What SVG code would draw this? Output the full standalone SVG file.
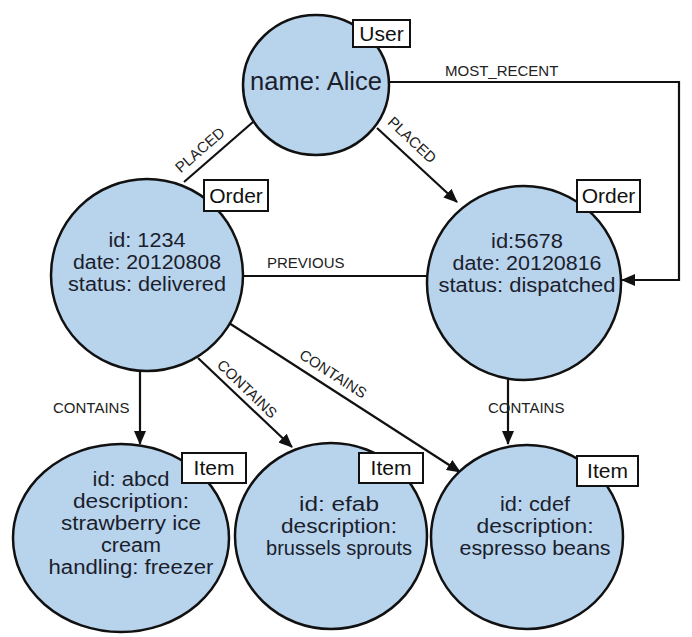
<svg xmlns="http://www.w3.org/2000/svg" width="692" height="637" viewBox="0 0 692 637">
<style>
.node{fill:#b8d3ec;stroke:#111;stroke-width:2.5}
.ntext{font-family:"Liberation Sans",Arial,sans-serif;font-size:19.5px;fill:#1b1e2c;text-anchor:middle}
.box{fill:#fff;stroke:#111;stroke-width:2}
.btext{font-family:"Liberation Sans",Arial,sans-serif;font-size:21px;fill:#111;text-anchor:middle}
.edge{fill:none;stroke:#111;stroke-width:2.2}
.elabel{font-family:"Liberation Sans",Arial,sans-serif;font-size:15px;fill:#222}
.mid{text-anchor:middle}
</style>
<defs>
<marker id="arrow" markerUnits="userSpaceOnUse" markerWidth="14" markerHeight="12" refX="13" refY="6" orient="auto">
<path d="M0,0 L14,6 L0,12 z" fill="#111"/>
</marker>
</defs>
<rect width="692" height="637" fill="#fff"/>
<g id="connectors">
<line class="edge" x1="253" y1="122" x2="184" y2="182"/>
<line class="edge" x1="377" y1="128" x2="457" y2="202" marker-end="url(#arrow)"/>
<polyline class="edge" points="389,82 679,82 679,280 622,280" marker-end="url(#arrow)"/>
<line class="edge" x1="240" y1="276" x2="427" y2="276"/>
<line class="edge" x1="140" y1="372" x2="140" y2="444" marker-end="url(#arrow)"/>
<line class="edge" x1="198" y1="358" x2="292" y2="447" marker-end="url(#arrow)"/>
<line class="edge" x1="229" y1="323" x2="460" y2="472" marker-end="url(#arrow)"/>
<line class="edge" x1="508" y1="374" x2="508" y2="444" marker-end="url(#arrow)"/>
<text class="elabel mid" transform="translate(200,150) rotate(-41)" y="5">PLACED</text>
<text class="elabel mid" transform="translate(412,140) rotate(43)" y="5">PLACED</text>
<text class="elabel" x="445" y="76">MOST_RECENT</text>
<text class="elabel" x="267" y="268">PREVIOUS</text>
<text class="elabel" x="53" y="413">CONTAINS</text>
<text class="elabel mid" transform="translate(247,389) rotate(44)" y="5">CONTAINS</text>
<text class="elabel mid" transform="translate(333,374) rotate(33)" y="5">CONTAINS</text>
<text class="elabel" x="488" y="413">CONTAINS</text>
</g>
<g id="user">
<ellipse class="node" cx="316" cy="85" rx="73" ry="70"/>
<text class="ntext" x="316" y="90" style="font-size:25.5px">name: Alice</text>
<rect class="box" x="353" y="20" width="57" height="27"/>
<text class="btext" x="381.5" y="41">User</text>
</g>
<g id="order1234">
<circle class="node" cx="147" cy="275" r="96"/>
<text class="ntext" x="147" y="247" textLength="77" lengthAdjust="spacingAndGlyphs">id: 1234</text>
<text class="ntext" x="147" y="269" textLength="148" lengthAdjust="spacingAndGlyphs">date: 20120808</text>
<text class="ntext" x="147" y="291" textLength="158" lengthAdjust="spacingAndGlyphs">status: delivered</text>
<rect class="box" x="204" y="180" width="64" height="31"/>
<text class="btext" x="236" y="203">Order</text>
</g>
<g id="order5678">
<circle class="node" cx="524" cy="283" r="97"/>
<text class="ntext" x="527" y="248" textLength="72" lengthAdjust="spacingAndGlyphs">id:5678</text>
<text class="ntext" x="527" y="270" textLength="149" lengthAdjust="spacingAndGlyphs">date: 20120816</text>
<text class="ntext" x="527" y="292" textLength="177" lengthAdjust="spacingAndGlyphs">status: dispatched</text>
<rect class="box" x="577" y="180" width="63" height="32"/>
<text class="btext" x="608.5" y="203">Order</text>
</g>
<g id="itemabcd">
<ellipse class="node" cx="121" cy="538" rx="108" ry="94"/>
<text class="ntext" x="131" y="486" textLength="77" lengthAdjust="spacingAndGlyphs">id: abcd</text>
<text class="ntext" x="131" y="508" textLength="116" lengthAdjust="spacingAndGlyphs">description:</text>
<text class="ntext" x="131" y="530" textLength="140" lengthAdjust="spacingAndGlyphs">strawberry ice</text>
<text class="ntext" x="131" y="552" textLength="60" lengthAdjust="spacingAndGlyphs">cream</text>
<text class="ntext" x="131" y="574" textLength="165" lengthAdjust="spacingAndGlyphs">handling: freezer</text>
<rect class="box" x="182" y="453" width="64" height="30"/>
<text class="btext" x="214" y="475">Item</text>
</g>
<g id="itemefab">
<ellipse class="node" cx="331" cy="536" rx="96" ry="93"/>
<text class="ntext" x="339" y="511" textLength="80" lengthAdjust="spacingAndGlyphs">id: efab</text>
<text class="ntext" x="339" y="533" textLength="116" lengthAdjust="spacingAndGlyphs">description:</text>
<text class="ntext" x="339" y="555" textLength="146" lengthAdjust="spacingAndGlyphs">brussels sprouts</text>
<rect class="box" x="359" y="453" width="64" height="30"/>
<text class="btext" x="391" y="475">Item</text>
</g>
<g id="itemcdef">
<ellipse class="node" cx="527" cy="537" rx="96" ry="92"/>
<text class="ntext" x="535" y="511" textLength="70" lengthAdjust="spacingAndGlyphs">id: cdef</text>
<text class="ntext" x="535" y="533" textLength="117" lengthAdjust="spacingAndGlyphs">description:</text>
<text class="ntext" x="535" y="555" textLength="151" lengthAdjust="spacingAndGlyphs">espresso beans</text>
<rect class="box" x="577" y="456" width="61" height="30"/>
<text class="btext" x="607.5" y="478">Item</text>
</g>
</svg>
